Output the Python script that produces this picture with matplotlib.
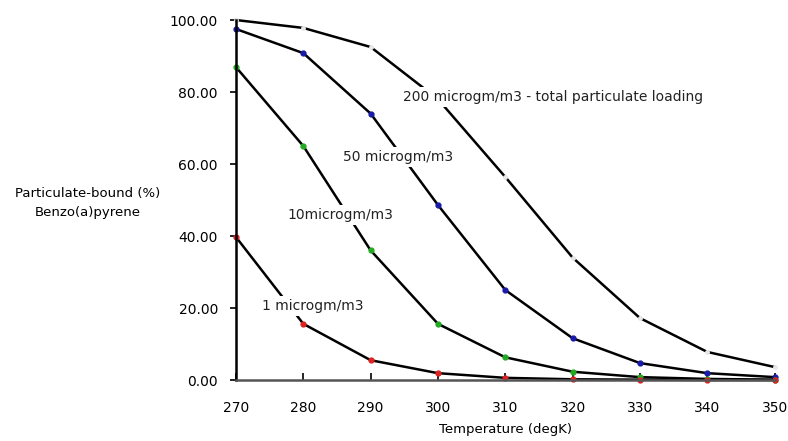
import matplotlib
matplotlib.use("Agg")
import matplotlib.pyplot as plt

temperature = [270, 280, 290, 300, 310, 320, 330, 340, 350]
load_200 = [100.0, 97.8, 92.5, 78.0, 56.4, 34.0, 17.2, 7.8, 3.6]
load_50 = [97.5, 90.8, 74.0, 48.6, 25.0, 11.6, 4.7, 1.9, 0.8]
load_10 = [86.9, 65.0, 36.0, 15.6, 6.3, 2.3, 0.8, 0.3, 0.1]
load_1 = [39.7, 15.6, 5.5, 1.9, 0.6, 0.2, 0.1, 0.0, 0.0]

series_labels = ["200 microgm/m3 - total particulate loading", "50 microgm/m3",
                 "10microgm/m3", "1 microgm/m3"]
y_ticks = [0, 20, 40, 60, 80, 100]
x_ticks = temperature

plt.rcParams['font.family'] = ['DejaVu Sans']

fig = plt.figure(figsize=(7.88, 4.41), dpi=100)
ax = fig.add_axes([0.2995, 0.1383, 0.6835, 0.8163])
ax.set_xlim(270, 350)
ax.set_ylim(0, 100)

series = [(load_200, "#e8e8e8", 2.5), (load_50, "#1a1aa8", 3.5),
          (load_10, "#22aa22", 3.5), (load_1, "#dd2222", 3.5)]
for vals, mc, ms in series:
    ax.plot(temperature, vals, color="black", lw=1.8, zorder=2,
            marker="o", markersize=ms, markerfacecolor=mc, markeredgecolor=mc,
            clip_on=False)

fig.canvas.draw()


def px(xp, yp):
    inv = ax.transData.inverted()
    return inv.transform((xp, 441 - yp))


positions = [(403, 97), (343, 157), (287, 215), (262, 306)]
for (xp, yp), text in zip(positions, series_labels):
    dx, dy = px(xp, yp)
    ax.text(dx, dy, text, fontsize=10, ha="left", va="center", zorder=5,
            color="#222222",
            bbox=dict(facecolor="white", edgecolor="none", pad=2.5))

ax.set_xticks(x_ticks)
ax.set_yticks(y_ticks)
ax.set_yticklabels([f"{v:.2f}" for v in y_ticks], fontsize=10)
ax.set_xticklabels([str(v) for v in x_ticks], fontsize=10)
ax.tick_params(axis="y", direction="out", length=4, width=1.2, pad=9)
ax.tick_params(axis="x", direction="in", length=5, width=1.2, pad=15)
for s in ["top", "right"]:
    ax.spines[s].set_visible(False)
ax.spines["left"].set_linewidth(1.8)
ax.spines["bottom"].set_linewidth(1.8)
ax.spines["bottom"].set_color("#555555")

ax.set_xlabel("Temperature (degK)", fontsize=9.5, labelpad=6)
fig.text(88 / 788, 1 - 203 / 441, "Particulate-bound (%)\nBenzo(a)pyrene",
         fontsize=9.5, ha="center", va="center", linespacing=1.65)

fig.savefig("out.png", dpi=100)
